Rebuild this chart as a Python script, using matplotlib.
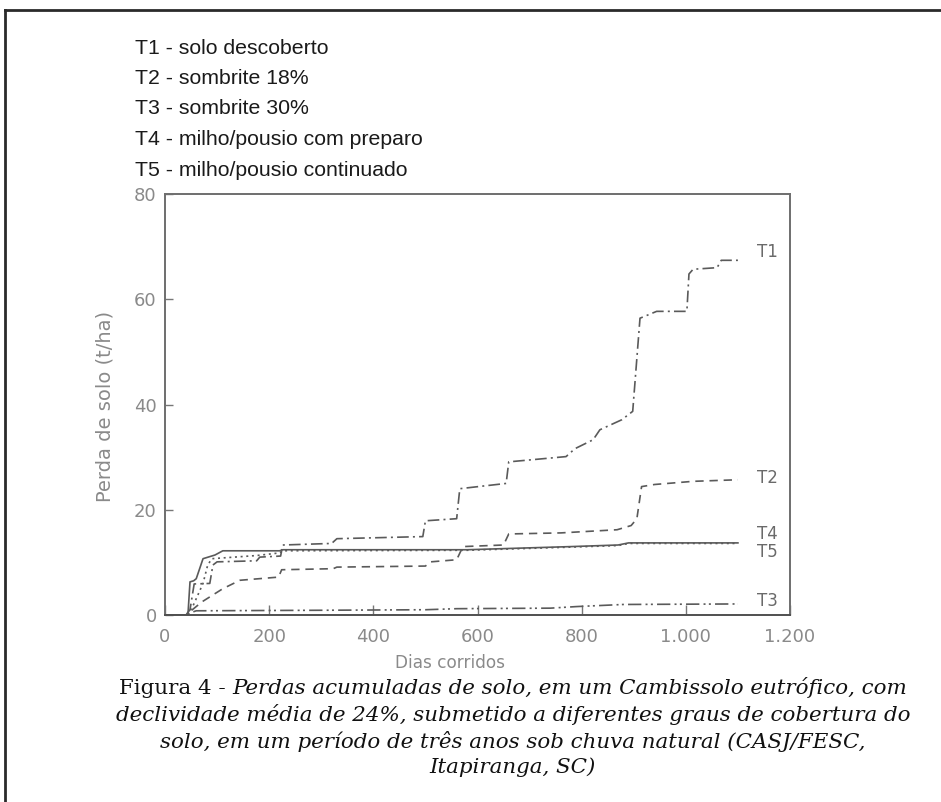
import matplotlib
matplotlib.use("Agg")
import matplotlib.pyplot as plt
from matplotlib.lines import Line2D

# ---------------- data ----------------
legend_lines = ["T1 - solo descoberto", "T2 - sombrite 18%", "T3 - sombrite 30%",
                "T4 - milho/pousio com preparo", "T5 - milho/pousio continuado"]
series_names = ["T1", "T2", "T3", "T4", "T5"]

t1_days = [0, 40, 48, 56, 86, 92, 100, 176, 182, 222, 226, 320, 330, 495, 500, 560, 566,
           655, 660, 770, 787, 822, 835, 877, 898, 912, 922, 944, 1002, 1006, 1014, 1060, 1068, 1100]
t1_vals = [0, 0, 1.0, 5.9, 6.0, 9.5, 10.1, 10.3, 11.0, 11.2, 13.3, 13.6, 14.5, 14.9, 17.9, 18.3, 24.0,
           25.0, 29.1, 30.1, 31.6, 33.3, 35.2, 37.1, 38.7, 56.4, 56.8, 57.7, 57.7, 64.8, 65.7, 66.0, 67.4, 67.4]

t2_days = [0, 40, 50, 71, 111, 144, 218, 224, 323, 330, 500, 510, 560, 572, 650, 660, 760, 868,
           895, 906, 915, 940, 1014, 1100]
t2_vals = [0, 0, 0.8, 2.5, 5.0, 6.6, 7.2, 8.6, 8.8, 9.1, 9.3, 10.1, 10.5, 13.0, 13.3, 15.4, 15.6, 16.2,
           17.0, 18.3, 24.4, 24.8, 25.4, 25.7]

t3_days = [0, 40, 48, 60, 300, 500, 560, 740, 790, 880, 1100]
t3_vals = [0, 0, 0.4, 0.8, 0.9, 1.0, 1.2, 1.3, 1.6, 2.0, 2.1]

t4_days = [0, 44, 48, 55, 60, 73, 96, 111, 220, 226, 580, 780, 870, 890, 1100]
t4_vals = [0, 0, 6.3, 6.5, 6.9, 10.7, 11.4, 12.2, 12.2, 12.4, 12.4, 13.0, 13.3, 13.7, 13.7]

t5_days = [0, 44, 55, 73, 82, 90, 176, 220, 226, 580, 780, 870, 890, 1100]
t5_vals = [0, 0, 2.0, 6.0, 9.5, 10.7, 11.3, 11.8, 12.2, 12.3, 12.9, 13.2, 13.6, 13.6]

label_y = [69.0, 26.0, 2.6, 15.4, 12.0]

x_ticks = [0, 200, 400, 600, 800, 1000, 1200]
x_tick_labels = ["0", "200", "400", "600", "800", "1.000", "1.200"]
y_ticks = [0, 20, 40, 60, 80]
y_tick_labels = ["0", "20", "40", "60", "80"]

caption_head = "Figura 4 - "
caption_line1 = "Perdas acumuladas de solo, em um Cambissolo eutrófico, com"
caption_rest = ["declividade média de 24%, submetido a diferentes graus de cobertura do",
                "solo, em um período de três anos sob chuva natural (CASJ/FESC,",
                "Itapiranga, SC)"]

# ---------------- figure ----------------
W, H = 941, 802
fig = plt.figure(figsize=(W / 100, H / 100), dpi=100)
fig.patch.set_facecolor("white")

# frame (top and left border)
fig.add_artist(Line2D([5 / W, 1.0], [1 - 10 / H, 1 - 10 / H], color="#2a2a2a", lw=2.0))
fig.add_artist(Line2D([5 / W, 5 / W], [0, 1 - 10 / H], color="#2a2a2a", lw=2.0))

# legend text block
leg_font = ["Liberation Sans Narrow", "Liberation Sans", "DejaVu Sans"]
for i, s in enumerate(legend_lines):
    fig.text(135 / W, 1 - (48 + 30.5 * i) / H, s, fontsize=15.3, family=leg_font,
             color="#1a1a1a", ha="left", va="center")

ax_l, ax_r, ax_t, ax_b = 165, 790, 194, 615
ax = fig.add_axes([ax_l / W, 1 - ax_b / H, (ax_r - ax_l) / W, (ax_b - ax_t) / H])

gray = "#5a5a5a"
ax.plot(t1_days, t1_vals, color=gray, lw=1.2, dashes=(7, 2.5, 1.2, 2.5))
ax.plot(t2_days, t2_vals, color=gray, lw=1.2, dashes=(5, 3.5))
ax.plot(t3_days, t3_vals, color=gray, lw=1.2, dashes=(8, 2.5, 1.2, 2, 1.2, 2.5))
ax.plot(t4_days, t4_vals, color=gray, lw=1.2, linestyle="-")
ax.plot(t5_days, t5_vals, color=gray, lw=1.2, dashes=(1.2, 2.2))

for name, yv in zip(series_names, label_y):
    ax.text(1137, yv, name, fontsize=12, color="#6a6a6a", ha="left", va="center",
            family="DejaVu Sans")

ax.set_xlim(0, 1200)
ax.set_ylim(0, 80)
ax.set_xticks(x_ticks)
ax.set_xticklabels(x_tick_labels)
ax.set_yticks(y_ticks)
ax.set_yticklabels(y_tick_labels)
ax.tick_params(axis="both", direction="in", colors="#777777", labelcolor="#8a8a8a",
               labelsize=13, width=1.0)
ax.tick_params(axis="y", length=6, pad=6)
ax.tick_params(axis="x", length=7, pad=9)
for sp in ax.spines.values():
    sp.set_color("#6e6e6e")
    sp.set_linewidth(1.4)
ax.spines["bottom"].set_color("#505050")

fig.text(105 / W, 1 - 406 / H, "Perda de solo (t/ha)", rotation=90, fontsize=14,
         color="#8a8a8a", ha="center", va="center")
fig.text(450 / W, 1 - 663 / H, "Dias corridos", fontsize=12.2, color="#8a8a8a",
         ha="center", va="center")

# caption
cap_font = ["DejaVu Serif"]
cap_size = 15.4
cx = 513
cy = [688, 714.5, 741, 767.5]
t_head = fig.text(0, 1 - cy[0] / H, caption_head, fontsize=cap_size, family=cap_font,
                  color="#111111", ha="left", va="center")
t_l1 = fig.text(0, 1 - cy[0] / H, caption_line1, fontsize=cap_size, family=cap_font,
                style="italic", color="#111111", ha="left", va="center")
fig.canvas.draw()
r = fig.canvas.get_renderer()
w_head = t_head.get_window_extent(r).width
w_l1 = t_l1.get_window_extent(r).width
x0 = cx - (w_head + w_l1) / 2
t_head.set_x(x0 / W)
t_l1.set_x((x0 + w_head) / W)
for s, yy in zip(caption_rest, cy[1:]):
    fig.text(cx / W, 1 - yy / H, s, fontsize=cap_size, family=cap_font, style="italic",
             color="#111111", ha="center", va="center")

fig.savefig("out.png", dpi=100, facecolor="white")
